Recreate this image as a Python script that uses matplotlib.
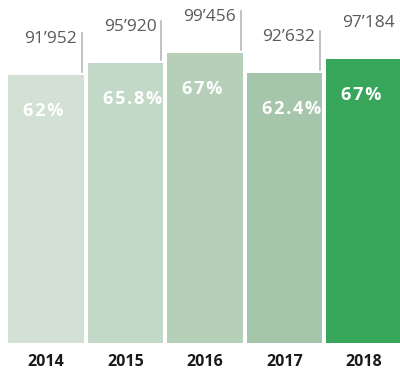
import matplotlib.pyplot as plt

plt.rcParams['font.family'] = ['Open Sans', 'DejaVu Sans']

# Data
years = ['2014', '2015', '2016', '2017', '2018']
totals = [91952, 95920, 99456, 92632, 97184]
shares = ['62%', '65.8%', '67%', '62.4%', '67%']
colors = ['#d2e1d4', '#c3d9c8', '#b5cfb9', '#a5c6aa', '#37a65a']

fig = plt.figure(figsize=(4.0, 3.74), dpi=100)
ax = fig.add_axes([0, 31 / 374, 1, 343 / 374])

x = range(len(years))
width = 0.955
ax.bar(x, totals, width=width, color=colors)

ax.set_xlim(-46 / 79.5, 354 / 79.5)
ax.set_ylim(0, 343 / 0.00292)
ax.axis('off')

hair = '\u200a'
for i, (val, share) in enumerate(zip(totals, shares)):
    right = i + width / 2
    left = i - width / 2
    # thousands label above each bar, with separator line
    label = f'{val:,}'.replace(',', '\u2019')
    ax.annotate(label, (right, val), xytext=(-7, 28), textcoords='offset pixels',
                ha='right', va='bottom', fontsize=12.5, color='#5a5a5a',
                annotation_clip=False)
    if i < len(years) - 1:
        ax.plot([right - 0.03, right - 0.03], [val + 3 / 0.00292, val + 42 / 0.00292],
                color='#b0b0b0', lw=1.1, clip_on=False)
    # share inside bar, spaced out a little
    ax.annotate(hair.join(share), (left, val), xytext=(15, -27), textcoords='offset pixels',
                ha='left', va='top', fontsize=13, fontweight='bold', color='white',
                annotation_clip=False)
    # year below bar
    fig.text((46 + 79.5 * i) / 400, 1 - 362 / 374, years[i], ha='center', va='center',
             fontsize=11.5, fontweight='bold', color='#1a1a1a')

fig.savefig('out.png', dpi=100)
